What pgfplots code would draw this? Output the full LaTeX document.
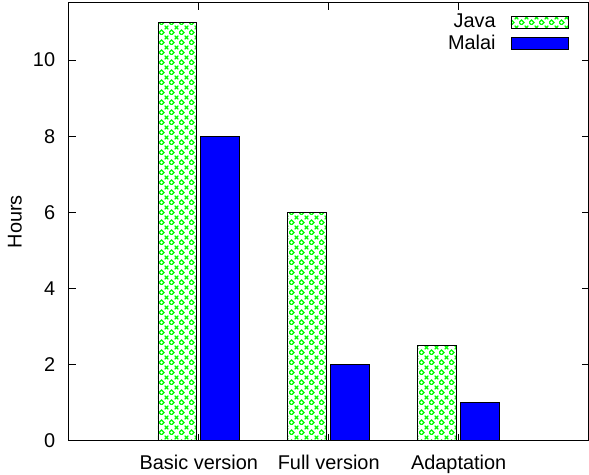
\documentclass[border=0pt]{standalone}
\usepackage{fontspec}
\setmainfont{Liberation Sans}
\usepackage{pgfplots}
\pgfplotsset{compat=1.18}
\usetikzlibrary{patterns}

% gnuplot-like fill: small diamonds with crosses between
\pgfdeclarepatternformonly{gnudiamond}{\pgfpoint{0bp}{0bp}}{\pgfpoint{10bp}{10bp}}{\pgfpoint{10bp}{10bp}}{
  \pgfsetlinewidth{1.2bp}
  \pgfpathmoveto{\pgfpoint{2.5bp}{0bp}}
  \pgfpathlineto{\pgfpoint{5bp}{2.5bp}}
  \pgfpathlineto{\pgfpoint{2.5bp}{5bp}}
  \pgfpathlineto{\pgfpoint{0bp}{2.5bp}}
  \pgfpathclose
  \pgfpathmoveto{\pgfpoint{5.7bp}{5.7bp}}
  \pgfpathlineto{\pgfpoint{9.3bp}{9.3bp}}
  \pgfpathmoveto{\pgfpoint{5.7bp}{9.3bp}}
  \pgfpathlineto{\pgfpoint{9.3bp}{5.7bp}}
  \pgfusepath{stroke}
}

\begin{document}
\fontsize{20}{23}\selectfont
\begin{tikzpicture}
\begin{axis}[
  scale only axis,
  width=520bp, height=438bp,
  xmin=-1, xmax=3,
  ymin=0, ymax=11.5,
  ybar, bar width=0.3,
  xtick={0,1,2},
  xticklabels={Basic version, Full version, Adaptation},
  ytick={0,2,...,10},
  tick align=inside,
  major tick length=7bp,
  axis line style={line width=1bp},
  tick style={line width=0.8bp, black},
  /pgf/number format/assume math mode=true,
  yticklabel style={xshift=-7bp},
  xticklabel style={yshift=-8bp},
  ylabel={Hours},
  ylabel style={at={(rel axis cs:-0.104,0.5)}, anchor=center},
  legend style={draw=none, fill=none, at={(rel axis cs:1,1)}, anchor=north east,
    xshift=-17bp, yshift=-7bp, row sep=0bp, column sep=13bp},
  legend cell align=right,
  legend plot pos=right,
  legend image code/.code={\draw[#1] (0bp,-6bp) rectangle (57bp,6bp);},
]
\addplot[bar shift=-0.165, draw=black, line width=0.8bp,
  pattern=gnudiamond, pattern color=green]
  coordinates {(0,11) (1,6) (2,2.5)};
\addplot[bar shift=0.165, draw=black, line width=0.8bp, fill=blue]
  coordinates {(0,8) (1,2) (2,1)};
\legend{Java, Malai}
\coordinate (ll) at (rel axis cs:0,0);
\coordinate (ur) at (rel axis cs:1,1);
\end{axis}
\pgfresetboundingbox
\useasboundingbox ([xshift=-69bp,yshift=-34bp]ll) rectangle ([xshift=0.5bp,yshift=3bp]ur);
\end{tikzpicture}
\end{document}
